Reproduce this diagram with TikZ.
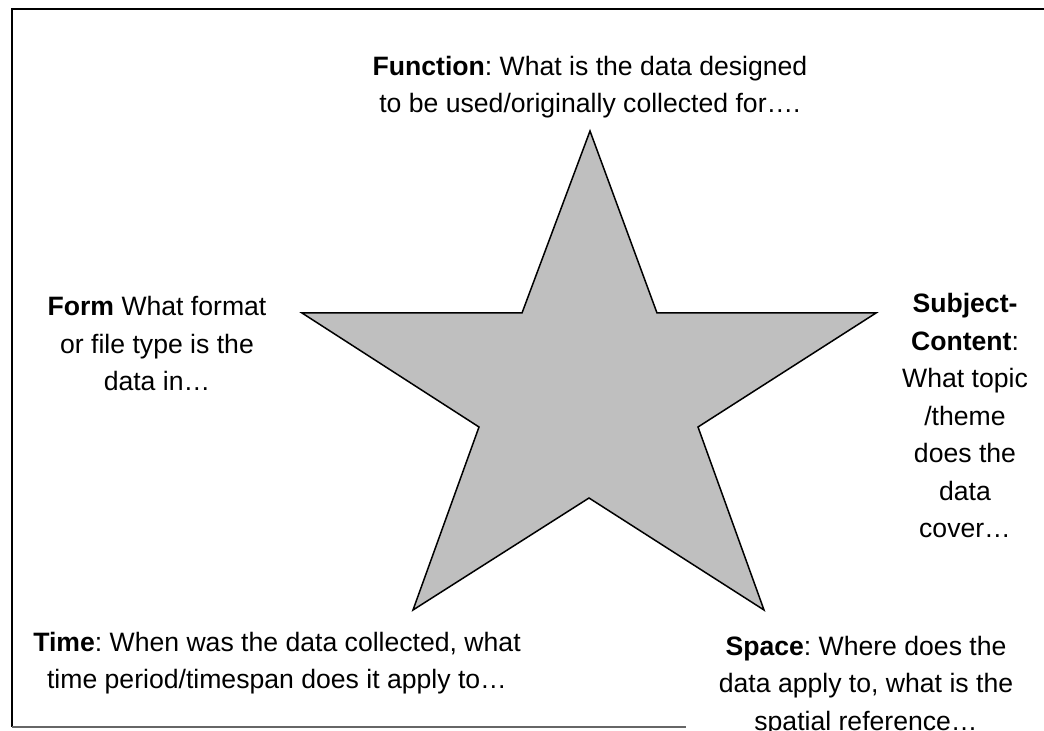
\documentclass[tikz,border=0pt]{standalone}
\usepackage{fontspec}
\setmainfont{Liberation Sans}
\frenchspacing

\begin{document}
\begin{tikzpicture}[x=0.5pt,y=-0.5pt,
  note/.style={align=center,inner sep=0pt,anchor=base,font=\fontsize{13.3}{18.75}\selectfont}]
\useasboundingbox (0,0) rectangle (1044,731);

% frame
\draw[line width=1pt] (1044,9) -- (12,9) -- (12,727);
\draw[gray!80!black,line width=0.8pt] (12,727) -- (686,727);

% star
\draw[fill=gray!50,line width=0.75pt,line join=miter]
  (590,131) -- (657,313) -- (876,313) -- (698,427) -- (764,610)
  -- (589,498) -- (413,610) -- (479,427) -- (302,313) -- (522,313) -- cycle;

\node[note] (func)  at (590,113) {\textbf{Function}: What is the data designed\\to be used/originally collected for….};
\node[note] (form)  at (157,391) {\textbf{Form} What format\\or file type is the\\data in…};
\node[note] (subj)  at (965,538) {\textbf{Subject-}\\\textbf{Content}:\\What topic\\/theme\\does the\\data\\cover…};
\node[note] (time)  at (277,689) {\textbf{Time}: When was the data collected, what\\time period/timespan does it apply to…};
\node[note] (space) at (866,730) {\textbf{Space}: Where does the\\data apply to, what is the\\spatial reference…};

\end{tikzpicture}
\end{document}
